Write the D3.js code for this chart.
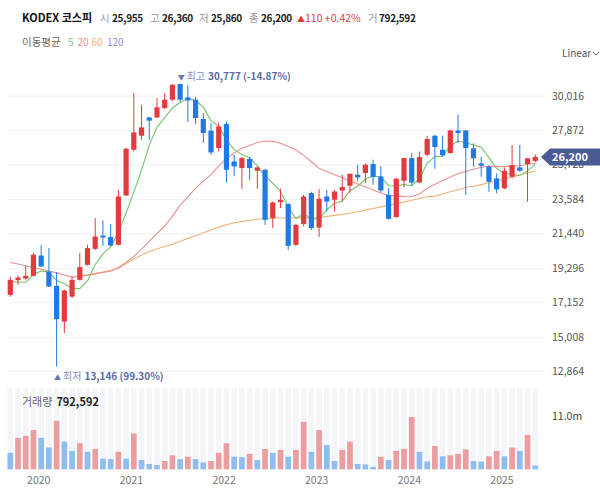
<!DOCTYPE html>
<html>
<head>
<meta charset="utf-8">
<script src="https://d3js.org/d3.v7.min.js"></script>
<style>
  body { margin: 0; background: #fff; }
  svg { display: block; font-family: "Noto Sans CJK KR", "Noto Sans", sans-serif; }
</style>
</head>
<body>
<svg id="chart" width="600" height="492"></svg>
<script>
// monthly candles, Sep 2019 .. May 2025
const months = [
  "2019-09","2019-10","2019-11","2019-12",
  "2020-01","2020-02","2020-03","2020-04","2020-05","2020-06","2020-07","2020-08","2020-09","2020-10","2020-11","2020-12",
  "2021-01","2021-02","2021-03","2021-04","2021-05","2021-06","2021-07","2021-08","2021-09","2021-10","2021-11","2021-12",
  "2022-01","2022-02","2022-03","2022-04","2022-05","2022-06","2022-07","2022-08","2022-09","2022-10","2022-11","2022-12",
  "2023-01","2023-02","2023-03","2023-04","2023-05","2023-06","2023-07","2023-08","2023-09","2023-10","2023-11","2023-12",
  "2024-01","2024-02","2024-03","2024-04","2024-05","2024-06","2024-07","2024-08","2024-09","2024-10","2024-11","2024-12",
  "2025-01","2025-02","2025-03","2025-04","2025-05"
];
const opens = [17612,18528,18628,18797,20062,19065,18173,15948,17506,18547,19482,20479,21308,21209,20729,23802,
  26650,27523,28664,28664,29249,29767,30745,29910,29767,28564,27834,26756,28252,25921,25509,26071,25341,25404,22393,23390,
  23266,20729,22019,23951,21807,23739,23534,24113,24406,25092,25198,25759,24986,23845,22455,24718,26133,24612,26339,27523,
  26650,26445,27853,27853,26737,25803,25591,24868,24244,24967,25553,25760,25955];
const highs = [18753,18815,19420,20211,20729,20523,19027,17950,18753,20211,20729,22392,22243,22019,24157,26760,
  30184,29455,28700,29873,30184,30720,30777,30658,29950,28938,28314,28352,28414,26339,26195,26195,25609,25466,23430,24219,
  23330,22040,23845,24030,24200,24157,24157,25092,25160,25715,25800,26027,25609,24263,24900,26150,26445,26544,27523,27585,
  27523,27900,28832,27853,27049,26214,25650,25179,25553,26943,26943,26150,26360];
const lows = [17488,18236,18560,18756,19358,18110,13146,15225,17406,18500,19430,20400,20666,20640,20700,23780,
  26544,27274,27274,28620,29180,29680,29620,28377,28252,27068,26339,26544,24612,25030,24219,24780,24219,21975,21770,23016,
  20417,20660,21869,21650,21209,22804,22804,23428,23950,24674,24574,24469,23980,22300,22420,24325,24406,24570,26232,25466,
  26230,26400,27068,23845,25591,24967,24032,23933,24182,24868,25279,23409,25860];
const closes = [18547,18691,18797,20105,19376,18130,16098,17880,18547,19339,20523,21246,21184,20685,23739,26712,
  27729,28040,28458,29287,29767,30702,29767,29723,28626,27691,26482,28102,25404,25609,26133,25509,25547,22287,23366,23534,
  20666,21975,23739,21770,23596,23428,24051,24325,25154,24924,25715,24949,24113,22349,24843,26133,24612,26195,27318,26818,
  26295,27853,27691,26756,26114,25653,24655,24182,25341,25697,25341,26114,26200];
const volumes = [3.4,6.5,6.9,8.1,6.5,4.5,10.0,5.7,3.8,5.4,3.6,4.2,2.2,2.1,3.6,2.2,
  7.4,1.9,1.1,0.9,1.7,2.9,2.1,2.6,2.1,1.4,1.7,3.4,5.4,2.6,2.5,3.2,1.9,4.2,3.4,4.0,
  2.6,4.0,9.8,3.6,8.1,5.0,1.7,4.0,5.7,1.1,1.0,0.5,2.6,1.9,3.8,4.2,10.8,3.6,1.6,4.8,
  2.7,2.9,3.2,4.1,1.7,1.6,2.7,3.8,2.7,4.5,3.8,7.1,0.792592].map(v => v * 1e6);

// moving averages as drawn (5, 20, 60 months)
const ma5 = [18430,18410,18400,18870,19103,19020,18501,18318,18006,17999,18477,19507,20168,20595,21475,22713,
  24010,25381,26936,28045,28656,29251,29596,29849,29717,29302,28458,28125,27261,26658,26346,26151,25640,25017,24568,24049,
  23080,22366,22656,22337,22349,22902,23317,23434,24111,24376,24834,25013,24971,24410,24394,24477,24410,24826,25820,26215,
  26248,26896,27195,27083,26942,26813,26174,25472,25189,25106,25043,25335,25739];
const ma20 = [19632,19530,19430,19320,19210,19100,18980,18850,18720,18760,18840,18920,19000,19080,19300,19650,
  20000,20450,20950,21440,21900,22500,23200,23720,24250,24700,25100,25650,26100,26450,26740,26920,27100,27190,27170,27050,
  26850,26630,26300,25900,25490,25300,25100,24900,24700,24520,24340,24150,23950,23820,23760,23730,23720,23900,24250,24500,
  24730,24960,25150,25300,25430,25560,25630,25600,25600,25620,25650,25750,25800];
const ma60 = [null,null,null,null,null,null,null,null,null,18780,18840,18940,19040,19150,19250,19550,
  19850,20100,20300,20480,20620,20760,20950,21130,21300,21480,21650,21830,21980,22100,22190,22260,22320,22370,22390,22400,
  22410,22410,22410,22410,22420,22490,22560,22620,22690,22790,22890,22990,23090,23200,23290,23390,23500,23610,23720,23760,
  23890,24030,24160,24300,24380,24480,24590,24720,24830,24960,25080,25210,25330];

const priceTicks = [12864, 15008, 17152, 19296, 21440, 23584, 25728, 27872, 30016];
const yearTicks = ["2020-01","2021-01","2022-01","2023-01","2024-01","2025-01"];
const volumeTicks = [11e6];
const dayChange = 110, dayChangePct = 0.42;

const UP = "#e23b3f", DOWN = "#1f7ae6";
const VOL_UP = "#ec9da0", VOL_DOWN = "#8fbdef";
const MA_COLORS = {ma5: "#74c46a", ma20: "#eb8f8f", ma60: "#f0b277", ma120: "#9a88dc"};

const svg = d3.select("#chart");
const fmt = d3.format(",");

const x = d3.scaleBand().domain(months).range([6.44, 539.1]);
const cx = i => x(months[i]) + x.bandwidth() / 2;
const y = d3.scaleLinear().domain([12864, 30016]).range([371.1, 95.7]);
const yVol = d3.scaleLinear().domain([0, 11e6]).range([469.3, 416]);

// ---- header ----
const head = svg.append("text").attr("y", 21.5).attr("font-size", 10.5);
head.append("tspan").attr("x", 22).attr("font-size", 11).attr("font-weight", 700).attr("fill", "#111").text("KODEX 코스피");
const last = closes.length - 1;
const fields = [
  ["시", opens[last], 100], ["고", highs[last], 150], ["저", lows[last], 199], ["종", closes[last], 249]
];
fields.forEach(([k, v, px]) => {
  head.append("tspan").attr("x", px).attr("fill", "#999").text(k);
  head.append("tspan").attr("x", px + 12).attr("font-size", 10).attr("font-weight", 700)
    .attr("letter-spacing", -0.3).attr("fill", "#222").text(fmt(v));
});
head.append("tspan").attr("x", 297).attr("fill", UP).attr("font-size", 8).text("▲");
head.append("tspan").attr("x", 305).attr("fill", UP).attr("font-size", 10.5).text(dayChange + " +" + dayChangePct.toFixed(2) + "%");
head.append("tspan").attr("x", 368).attr("fill", "#999").text("거");
head.append("tspan").attr("x", 379).attr("font-size", 10).attr("font-weight", 700)
  .attr("letter-spacing", -0.3).attr("fill", "#222").text(fmt(Math.round(volumes[last])));

const leg = svg.append("text").attr("y", 46).attr("font-size", 10);
leg.append("tspan").attr("x", 22).attr("font-size", 10.5).attr("fill", "#666").text("이동평균");
leg.append("tspan").attr("x", 68).attr("fill", MA_COLORS.ma5).text("5");
leg.append("tspan").attr("x", 77.5).attr("fill", MA_COLORS.ma20).text("20");
leg.append("tspan").attr("x", 91.5).attr("fill", MA_COLORS.ma60).text("60");
leg.append("tspan").attr("x", 107).attr("fill", MA_COLORS.ma120).text("120");

svg.append("text").attr("x", 562).attr("y", 57).attr("font-size", 10).attr("fill", "#555").text("Linear");
svg.append("path").attr("d", "M593,52 l3,3 l3,-3").attr("fill", "none").attr("stroke", "#666").attr("stroke-width", 1);

// ---- price grid + axis ----
svg.append("g")
  .attr("transform", "translate(545,0)")
  .call(d3.axisLeft(y).tickValues(priceTicks).tickSize(537).tickFormat(""))
  .call(g => g.select(".domain").remove())
  .call(g => g.selectAll("line").attr("stroke", "#f0f1f3"));

svg.append("g")
  .attr("transform", "translate(551,0)")
  .call(d3.axisRight(y).tickValues(priceTicks).tickSize(0).tickPadding(1).tickFormat(fmt))
  .call(g => g.select(".domain").remove())
  .call(g => g.selectAll("text").attr("font-size", 10.5).attr("fill", "#555")
    .attr("font-family", "'Noto Sans CJK KR','Noto Sans',sans-serif"));

// ---- moving averages ----
const maLine = d3.line().defined(d => d != null).x((d, i) => cx(i)).y(d => y(d));
[["ma60", ma60], ["ma20", ma20], ["ma5", ma5]].forEach(([k, arr]) => {
  svg.append("path").attr("d", maLine(arr)).attr("fill", "none")
    .attr("stroke", MA_COLORS[k]).attr("stroke-width", 1.1);
});

// ---- candles ----
const candles = svg.append("g").selectAll("g").data(months).join("g")
  .attr("fill", (d, i) => closes[i] >= opens[i] ? UP : DOWN)
  .attr("stroke", (d, i) => closes[i] >= opens[i] ? UP : DOWN);
candles.append("line")
  .attr("x1", (d, i) => cx(i)).attr("x2", (d, i) => cx(i))
  .attr("y1", (d, i) => y(highs[i])).attr("y2", (d, i) => y(lows[i]))
  .attr("stroke-width", 1);
candles.append("rect")
  .attr("x", (d, i) => cx(i) - 2.6).attr("width", 5.2)
  .attr("y", (d, i) => y(Math.max(opens[i], closes[i])))
  .attr("height", (d, i) => Math.max(1.5, Math.abs(y(opens[i]) - y(closes[i]))))
  .attr("stroke", "none");

// ---- high / low annotations ----
const hiIdx = d3.maxIndex(highs), loIdx = d3.minIndex(lows);
const pct = v => (closes[last] / v - 1) * 100;
const ann = (i, v, up) => {
  const yy = up ? y(v) + 13 : y(v) - 3.5;
  const t = svg.append("text").attr("x", cx(i) - 2.5).attr("y", yy).attr("font-size", 10);
  t.append("tspan").attr("fill", "#6577ad").attr("font-size", 7).text(up ? "▲" : "▼");
  t.append("tspan").attr("dx", 2).attr("fill", "#8592bb").text(up ? "최저" : "최고");
  t.append("tspan").attr("dx", 3).attr("fill", "#5b6ca3").attr("font-weight", 700)
    .text(fmt(v) + " (" + pct(v).toFixed(2) + "%)");
};
ann(hiIdx, highs[hiIdx], false);
ann(loIdx, lows[loIdx], true);

// ---- last price tag ----
const ty = y(closes[last]);
svg.append("path")
  .attr("d", `M541,${ty} L550,${ty - 8.5} L600,${ty - 8.5} L600,${ty + 8.5} L550,${ty + 8.5} Z`)
  .attr("fill", "#4a5b96");
svg.append("text").attr("x", 552).attr("y", ty + 4).attr("font-size", 11).attr("font-weight", 700)
  .attr("fill", "#fff").text(fmt(closes[last]));

// ---- volume panel ----
const vol = svg.append("g");
vol.selectAll("rect.bg").data(months).join("rect").attr("class", "bg")
  .attr("x", (d, i) => cx(i) - 2.85).attr("width", 5.7)
  .attr("y", 388.3).attr("height", yVol(0) - 388.3 + 0.4)
  .attr("fill", "#f3f5f9");
vol.selectAll("rect.v").data(volumes).join("rect").attr("class", "v")
  .attr("x", (d, i) => cx(i) - 2.85).attr("width", 5.7)
  .attr("y", d => yVol(d)).attr("height", d => yVol(0) - yVol(d))
  .attr("fill", (d, i) => i > 0 && d > volumes[i - 1] ? VOL_UP : VOL_DOWN);

svg.append("g")
  .attr("transform", "translate(551,0)")
  .call(d3.axisRight(yVol).tickValues(volumeTicks).tickSize(0).tickPadding(1)
    .tickFormat(d => (d / 1e6).toFixed(1) + "m"))
  .call(g => g.select(".domain").remove())
  .call(g => g.selectAll("text").attr("font-size", 10.5).attr("fill", "#444")
    .attr("font-family", "'Noto Sans CJK KR','Noto Sans',sans-serif"));

const vt = svg.append("text").attr("x", 22).attr("y", 406).attr("font-size", 11);
vt.append("tspan").attr("fill", "#666").text("거래량");
vt.append("tspan").attr("dx", 4).attr("font-weight", 700).attr("fill", "#222").text(fmt(Math.round(volumes[last])));

// ---- x axis ----
svg.append("g")
  .attr("transform", "translate(-2.4,471)")
  .call(d3.axisBottom(x).tickValues(yearTicks).tickSize(0).tickPadding(6).tickFormat(d => d.slice(0, 4)))
  .call(g => g.select(".domain").remove())
  .call(g => g.selectAll("text").attr("font-size", 10.5).attr("fill", "#777")
    .attr("font-family", "'Noto Sans CJK KR','Noto Sans',sans-serif"));
</script>
</body>
</html>
